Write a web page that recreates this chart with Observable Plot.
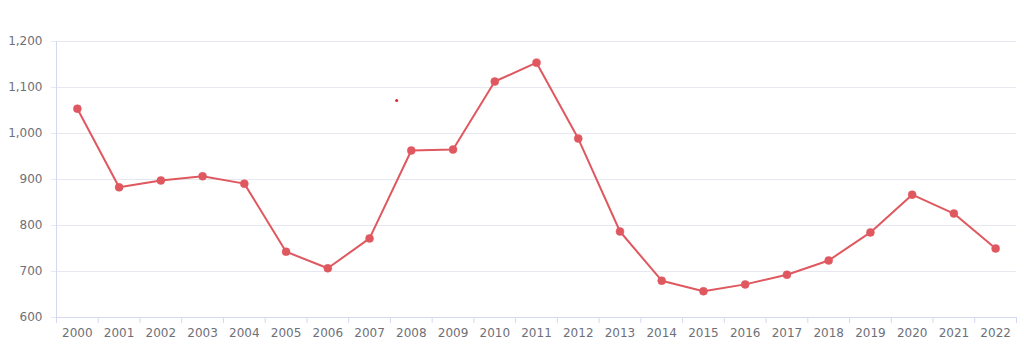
<!DOCTYPE html>
<html>
<head>
<meta charset="utf-8">
<script src="https://cdn.jsdelivr.net/npm/d3@7"></script>
<script src="https://cdn.jsdelivr.net/npm/@observablehq/plot@0.6"></script>
<style>
  html, body { margin: 0; padding: 0; background: #fff; }
  #chart svg { display: block; }
</style>
</head>
<body>
<div id="chart"></div>
<script>
const years = [2000, 2001, 2002, 2003, 2004, 2005, 2006, 2007, 2008, 2009, 2010, 2011,
               2012, 2013, 2014, 2015, 2016, 2017, 2018, 2019, 2020, 2021, 2022];
const values = [1054, 883, 898, 907, 891, 743, 707, 772, 963, 965, 1113, 1154,
                989, 787, 680, 657, 672, 693, 724, 785, 867, 826, 750];
const yTicks = [600, 700, 800, 900, 1000, 1100, 1200];
// small stray marker visible in the reference
const strayX = [2007.65];
const strayY = [1072];

const data = years.map((y, i) => ({year: y, value: values[i]}));
const bounds = years.map(y => y - 0.5).concat([years[years.length - 1] + 0.5]);
const xDomain = [bounds[0], bounds[bounds.length - 1]];
const stray = strayX.map((x, i) => ({x, y: strayY[i]}));

const font = "DejaVu Sans, sans-serif";
const axisColor = "#d5d9ef";
const gridColor = "#e6e8f1";
const labelColor = "#6e7079";
const lineColor = "#e0585f";

const chart = Plot.plot({
  width: 1024,
  height: 352,
  marginLeft: 56,
  marginRight: 8,
  marginTop: 41,
  marginBottom: 35,
  style: {fontFamily: font, fontSize: "12px", color: labelColor, background: "#fff"},
  x: {domain: xDomain, axis: null},
  y: {domain: [600, 1200], axis: null},
  marks: [
    Plot.gridY(yTicks, {stroke: gridColor, strokeOpacity: 1}),
    Plot.axisY(yTicks, {anchor: "left", tickSize: 5, tickPadding: 9, stroke: gridColor, strokeOpacity: 1,
      fill: labelColor, fontSize: 12, tickFormat: d => d.toLocaleString("en-US")}),
    Plot.ruleX([xDomain[0]], {stroke: axisColor}),
    Plot.ruleY([600], {stroke: axisColor}),
    Plot.axisX(bounds, {anchor: "bottom", tickSize: 6, stroke: axisColor, strokeOpacity: 1, tickFormat: () => ""}),
    Plot.axisX(years, {anchor: "bottom", tickSize: 0, tickPadding: 11, fill: labelColor, fontSize: 12,
      tickFormat: d => String(d)}),
    Plot.line(data, {x: "year", y: "value", stroke: lineColor, strokeWidth: 2}),
    Plot.dot(data, {x: "year", y: "value", r: 4, fill: lineColor, stroke: lineColor, strokeWidth: 0.5}),
    Plot.dot(stray, {x: "x", y: "y", r: 1.5, fill: "#e8222a"})
  ]
});
document.getElementById("chart").appendChild(chart);
</script>
</body>
</html>
